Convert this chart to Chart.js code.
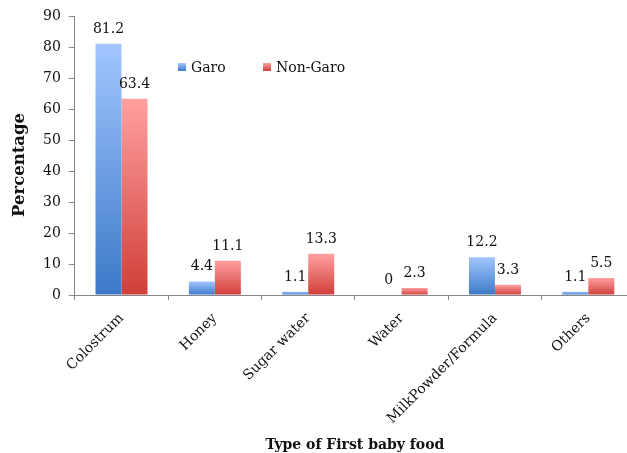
<!DOCTYPE html>
<html>
<head>
<meta charset="utf-8">
<script src="https://cdn.jsdelivr.net/npm/chart.js@4/dist/chart.umd.min.js"></script>
<style>
html,body{margin:0;padding:0;background:#fff;overflow:hidden;width:627px;height:453px;}
canvas{display:block;}
</style>
</head>
<body>
<canvas id="c" width="636" height="453"></canvas>
<script>
const categories = ["Colostrum", "Honey", "Sugar water", "Water", "MilkPowder/Formula", "Others"];
const garo = [81.2, 4.4, 1.1, 0, 12.2, 1.1];
const nonGaro = [63.4, 11.1, 13.3, 2.3, 3.3, 5.5];
const yTicks = [0, 10, 20, 30, 40, 50, 60, 70, 80, 90];
const yTitle = "Percentage";
const xTitle = "Type of First baby food";

const FONT = "'DejaVu Serif', 'Liberation Serif', serif";
const BLUE = ["#a2c6ff", "#3c79c8"];
const RED = ["#ffa09f", "#d03e39"];

function gradFill(colors) {
  return (ctx) => {
    const chart = ctx.chart;
    if (!chart.chartArea || ctx.type !== 'data' || !ctx.parsed) return colors[0];
    const ys = chart.scales.y;
    const top = ys.getPixelForValue(ctx.parsed.y);
    const bottom = ys.getPixelForValue(0);
    if (bottom - top < 1) return colors[0];
    const g = chart.ctx.createLinearGradient(0, top, 0, bottom);
    g.addColorStop(0, colors[0]);
    g.addColorStop(1, colors[1]);
    return g;
  };
}

const labelsPlugin = {
  id: 'valueLabels',
  afterDatasetsDraw(chart) {
    const c = chart.ctx;
    c.save();
    c.font = "14px " + FONT;
    c.fillStyle = "#111";
    c.textAlign = "center";
    c.textBaseline = "alphabetic";
    chart.data.datasets.forEach((ds, i) => {
      const meta = chart.getDatasetMeta(i);
      meta.data.forEach((bar, j) => {
        c.fillText(String(ds.data[j]), bar.x, bar.y - 11);
      });
    });
    c.restore();
  }
};

const yTitlePlugin = {
  id: 'yTitle',
  afterDraw(chart) {
    const c = chart.ctx;
    c.save();
    c.translate(20, 165);
    c.rotate(-Math.PI / 2);
    c.font = "bold 16.5px " + FONT;
    c.fillStyle = "#111";
    c.textAlign = "center";
    c.textBaseline = "middle";
    c.fillText(yTitle, 0, 0);
    c.restore();
  }
};

const legendPlugin = {
  id: 'customLegend',
  afterDraw(chart) {
    const c = chart.ctx;
    c.save();
    const items = [
      {x: 178, label: chart.data.datasets[0].label, colors: BLUE},
      {x: 263, label: chart.data.datasets[1].label, colors: RED}
    ];
    const y = 67;
    items.forEach(it => {
      const g = c.createLinearGradient(0, y - 4, 0, y + 4);
      g.addColorStop(0, it.colors[0]);
      g.addColorStop(1, it.colors[1]);
      c.fillStyle = g;
      c.fillRect(it.x, y - 4, 8, 8);
      c.fillStyle = "#111";
      c.font = "14px " + FONT;
      c.textAlign = "left";
      c.textBaseline = "middle";
      c.fillText(it.label, it.x + 13, y + 1);
    });
    c.restore();
  }
};

new Chart(document.getElementById('c'), {
  type: 'bar',
  data: {
    labels: categories,
    datasets: [
      {label: "Garo", data: garo, backgroundColor: gradFill(BLUE), categoryPercentage: 0.557, barPercentage: 1.0, borderWidth: 0},
      {label: "Non-Garo", data: nonGaro, backgroundColor: gradFill(RED), categoryPercentage: 0.557, barPercentage: 1.0, borderWidth: 0}
    ]
  },
  options: {
    responsive: false,
    animation: false,
    devicePixelRatio: 1,
    layout: {padding: {top: 8, left: 35, right: 1, bottom: -1}},
    plugins: {
      legend: {display: false},
      tooltip: {enabled: false}
    },
    scales: {
      x: {
        grid: {display: true, drawOnChartArea: false, offset: true, color: "#868686", tickLength: 5},
        border: {display: true, color: "#868686", width: 1},
        ticks: {color: "#111", font: {family: FONT, size: 14}, maxRotation: 45, minRotation: 45, padding: 10},
        title: {display: true, text: xTitle, color: "#111", font: {family: FONT, size: 14, weight: 'bold'}, padding: {top: 0, bottom: 0}}
      },
      y: {
        min: 0, max: 90,
        afterBuildTicks(axis) { axis.ticks = yTicks.map(v => ({value: v})); },
        grid: {display: true, drawOnChartArea: false, color: "#868686", tickLength: 6},
        border: {display: true, color: "#868686", width: 1},
        ticks: {color: "#111", font: {family: FONT, size: 14}, padding: 8},
        title: {display: false}
      }
    }
  },
  plugins: [labelsPlugin, legendPlugin, yTitlePlugin]
});
</script>
</body>
</html>
